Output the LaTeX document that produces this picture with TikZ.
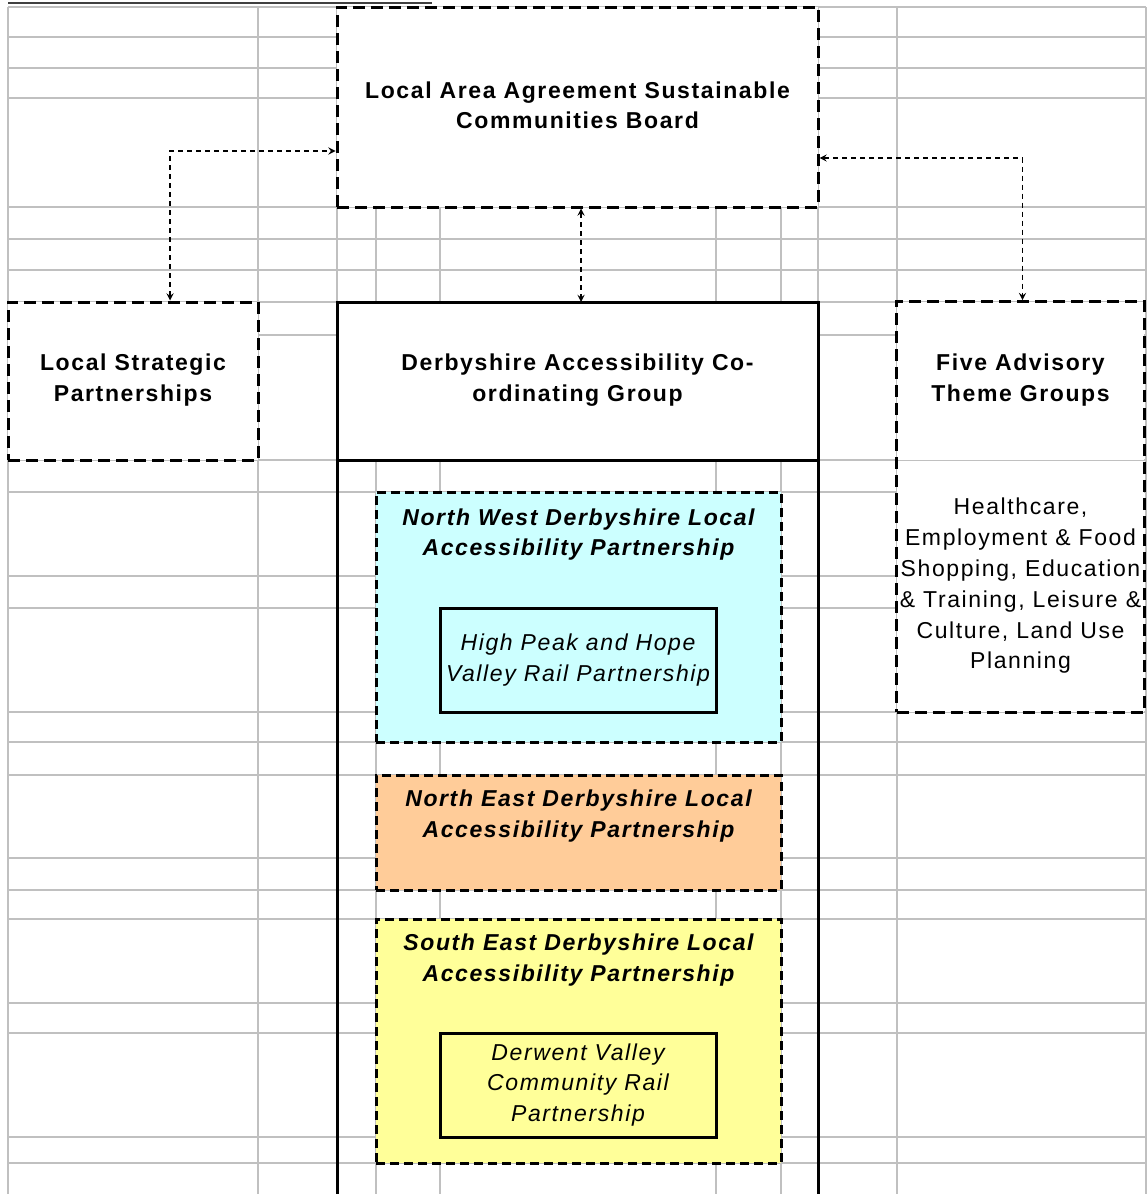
\documentclass[tikz,border=0pt]{standalone}
\usepackage{fontspec}
\setmainfont{Liberation Sans}[LetterSpace=7]
\usetikzlibrary{positioning, fit, arrows}
\definecolor{gridgrey}{HTML}{C0C0C0}
\definecolor{nwcyan}{HTML}{CCFFFF}
\definecolor{neorange}{HTML}{FFCC99}
\definecolor{seyellow}{HTML}{FFFF99}

\begin{document}
\begin{tikzpicture}[
    x=0.5pt, y=-0.5pt,
    every node/.style={inner sep=0pt, align=center, font=\fontsize{11.5}{15.2}\selectfont},
    gridline/.style={draw=gridgrey, line width=0.75pt},
    groupbox/.style={draw, fill=white, line width=1.5pt, dash pattern=on 6pt off 3pt},
    mainbox/.style={draw, fill=white, line width=1.5pt, outer sep=0pt},
    lapbox/.style={draw, line width=1.5pt, dash pattern=on 4.5pt off 2.5pt},
    railbox/.style={draw, line width=1.5pt},
    heading/.style={font=\fontsize{11.5}{15.2}\selectfont\bfseries},
    lapname/.style={font=\fontsize{11.5}{15.4}\selectfont\bfseries\itshape},
    railname/.style={font=\fontsize{11.5}{15.4}\selectfont\itshape},
    link/.style={<->, >=stealth, line width=0.6pt, dash pattern=on 2.5pt off 2pt}
]
\useasboundingbox (0,0) rectangle (1146,1194);

% spreadsheet grid
\foreach \x in {8,258,337,376,440,716,781,818,897,1146}
    \draw[gridline] (\x,7) -- (\x,1200);
\foreach \y in {7,37,68,98,207,239,270,302,335,460,492,576,608,712,742,775,858,890,919,1003,1033,1137,1163}
    \draw[gridline] (8,\y) -- (1146,\y);
\draw[black!75, line width=0.6pt] (8,3) -- (432,3);

% top row
\node[groupbox, fit={(337,7) (818,207)}] (board) {};
\node[heading] (boardname) at ([yshift=1pt]board.center) {Local Area Agreement Sustainable\\Communities Board};

% second row
\node[groupbox, fit={(8,302) (258,460)}] (lsp) {};
\node[heading] (lspname) at ([yshift=0.5pt]lsp.center) {Local Strategic\\Partnerships};
\node[mainbox, fit={(337,302) (818,460)}] (dacg) {};
\node[heading] (dacgname) at ([yshift=0.5pt]dacg.center) {Derbyshire Accessibility Co-\\ordinating Group};
\draw[line width=1.5pt] (dacg.south west) -- (337,1200) (dacg.south east) -- (818,1200);

\node[fill=white, fit={(897,302) (1144,460)}] (fivehead) {};
\node[fill=white, fit={(897,460) (1144,712)}] (fivebody) {};
\draw[gridline] (fivehead.south west) -- (fivehead.south east);
\node[groupbox, fill=none, fit=(fivehead) (fivebody)] (five) {};
\node[heading] (fivetitle) at ([yshift=0.5pt]fivehead.center) {Five Advisory\\Theme Groups};
\node[font=\fontsize{11.5}{15.4}\selectfont] (themes) at (fivebody.center) {Healthcare,\\Employment \& Food\\Shopping, Education\\\& Training, Leisure \&\\Culture, Land Use\\Planning};

% local accessibility partnerships
\node[lapbox, fill=nwcyan, fit={(376,492) (781,742)}] (nw) {};
\node[lapname] (nwname) at ([yshift=-22pt]nw.north) {North West Derbyshire Local\\Accessibility Partnership};
\node[railbox, fill=nwcyan, fit={(440,608) (716,712)}] (hope) {};
\node[railname] (hopename) at (hope.center) {High Peak and Hope\\Valley Rail Partnership};

\node[lapbox, fill=neorange, fit={(376,775) (781,890)}] (ne) {};
\node[lapname] (nename) at ([yshift=-21.25pt]ne.north) {North East Derbyshire Local\\Accessibility Partnership};

\node[lapbox, fill=seyellow, fit={(376,919) (781,1163)}] (se) {};
\node[lapname] (sename) at ([yshift=-21.25pt]se.north) {South East Derbyshire Local\\Accessibility Partnership};
\node[railbox, fill=seyellow, fit={(440,1033) (716,1137)}] (derwent) {};
\node[railname] (derwentname) at (derwent.center) {Derwent Valley\\Community Rail\\Partnership};

% links
\draw[link] ([xshift=18.5pt]lsp.north) |- ([yshift=-22pt]board.west);
\draw[link] ([xshift=1.75pt]board.south) -- ([xshift=1.75pt]dacg.north);
\draw[link] ([yshift=-25.5pt]board.east) -| ([xshift=1pt]five.north);

\end{tikzpicture}
\end{document}
